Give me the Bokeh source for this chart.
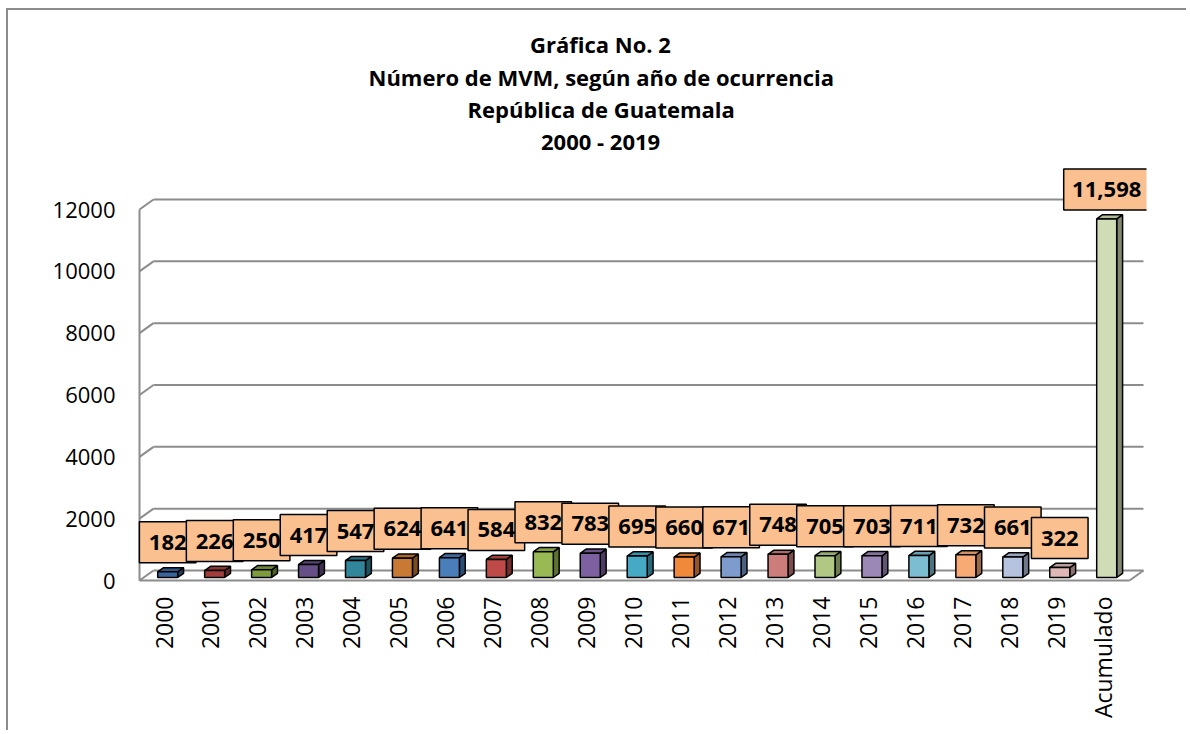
import math
from bokeh.plotting import figure
from bokeh.models import Range1d, FixedTicker, Title
from bokeh.embed import file_html
from bokeh.resources import INLINE
from bokeh.core.properties import value

# ---------------- data ----------------
categories = ["2000", "2001", "2002", "2003", "2004", "2005", "2006", "2007", "2008", "2009",
              "2010", "2011", "2012", "2013", "2014", "2015", "2016", "2017", "2018", "2019",
              "Acumulado"]
counts = [182, 226, 250, 417, 547, 624, 641, 584, 832, 783,
          695, 660, 671, 748, 705, 703, 711, 732, 661, 322,
          11598]
bar_colors = ["#3A659C", "#A23D3B", "#7E9B3F", "#664F86", "#31869C", "#C87A34",
              "#4A7EBB", "#BE4B48", "#98B954", "#7D60A0", "#46AAC5", "#F0893A",
              "#7D9CCD", "#CB7C7B", "#B0C883", "#9C88B7", "#7CBDD1", "#F8AA74",
              "#B5C3DF", "#DDB8B7", "#D0DCB6"]
y_ticks = [0, 2000, 4000, 6000, 8000, 10000, 12000]
title_lines = ["Gráfica No. 2",
               "Número de MVM, según año de ocurrencia",
               "República de Guatemala",
               "2000 - 2019"]
title_widths = [141, 464, 266, 119]   # approx rendered widths (px) for centring
title_standoffs = [-8, 10, -10, 10]
value_labels = [f"{v:,}" for v in counts]

# ---------------- geometry (pixels) ----------------
W, H = 1180, 722
ML, MR, MT, MB = 129, 42, 150, 150
frame_w = W - ML - MR
frame_h = H - MT - MB
SX = 46.95                 # px per category
SY = 371.0 / 12000.0       # px per unit
x_start = -26.0 / SX
x_wall = -24.0 / SX
y_start = -2.0 / SY
DX = 14.0 / SX             # depth offset of the 3D box
DY = 10.0 / SY
x_right = 966.0 / SX
F1, F2 = 0.30, 0.72        # bar depth fractions
HW = 10.0 / SX             # half bar width
TITLE_CX = 592             # title centre, px from figure left


def shade(hexcol, f):
    h = hexcol.lstrip("#")
    r, g, b = (int(h[i:i + 2], 16) for i in (0, 2, 4))
    return "#%02x%02x%02x" % (int(r * f), int(g * f), int(b * f))


p = figure(width=W, height=H, output_backend="svg", toolbar_location=None,
           x_range=Range1d(x_start, x_start + frame_w / SX),
           y_range=Range1d(y_start, y_start + frame_h / SY),
           min_border_left=ML, min_border_right=MR,
           min_border_top=MT, min_border_bottom=MB,
           background_fill_color="white", border_fill_color="white")
p.outline_line_color = None
p.xgrid.visible = False
p.ygrid.visible = False
p.styles = {"margin-left": "8px", "margin-top": "10px",
            "box-shadow": "-2px -2px 0 0 #8c8c8c"}

# titles (added bottom-first so that they stack upward)
for t, w, s in reversed(list(zip(title_lines, title_widths, title_standoffs))):
    p.add_layout(Title(text=t, align="left", offset=TITLE_CX - w / 2 - ML,
                       standoff=s,
                       text_font="Open Sans", text_font_style="bold",
                       text_font_size="22px", text_color="black"), "above")

# axes
p.yaxis.ticker = FixedTicker(ticks=y_ticks)
p.yaxis.axis_line_color = None
p.yaxis.major_tick_line_color = None
p.yaxis.minor_tick_line_color = None
p.yaxis.major_tick_out = 0
p.yaxis.major_label_standoff = 22
p.yaxis.major_label_text_font = "Open Sans"
p.yaxis.major_label_text_font_size = "22px"
p.yaxis.major_label_text_color = "black"

idx = list(range(len(categories)))
p.xaxis.ticker = FixedTicker(ticks=idx)
p.xaxis.major_label_overrides = {i: c for i, c in zip(idx, categories)}
p.xaxis.major_label_orientation = math.pi / 2
p.xaxis.axis_line_color = None
p.xaxis.major_tick_line_color = None
p.xaxis.minor_tick_line_color = None
p.xaxis.major_tick_out = 0
p.xaxis.major_label_standoff = 14
p.xaxis.major_label_text_font = "Open Sans"
p.xaxis.major_label_text_font_size = "23px"
p.xaxis.major_label_text_color = "black"

# walls / gridlines
gx0, gy0, gx1, gy1 = [], [], [], []
for v in y_ticks:
    gx0 += [x_wall, x_wall + DX]
    gy0 += [v, v + DY]
    gx1 += [x_wall + DX, x_right + DX]
    gy1 += [v + DY, v + DY]
gx0 += [x_wall, x_wall, x_right]
gy0 += [0, 0, 0]
gx1 += [x_wall, x_right, x_right + DX]
gy1 += [y_ticks[-1], 0, DY]
p.segment(x0=gx0, y0=gy0, x1=gx1, y1=gy1, line_color="#8c8c8c", line_width=2)

# 3D bars
ddx = (F2 - F1) * DX
ddy = (F2 - F1) * DY
lefts = [i + F1 * DX - HW for i in idx]
rights = [i + F1 * DX + HW for i in idx]
bottoms = [F1 * DY for _ in idx]
tops = [v + F1 * DY for v in counts]

side_xs = [[r, r + ddx, r + ddx, r] for r in rights]
side_ys = [[b, b + ddy, t + ddy, t] for b, t in zip(bottoms, tops)]
top_xs = [[l, r, r + ddx, l + ddx] for l, r in zip(lefts, rights)]
top_ys = [[t, t, t + ddy, t + ddy] for t in tops]

p.patches(side_xs, side_ys, fill_color=[shade(c, 0.62) for c in bar_colors],
          line_color="black", line_width=1.5)
p.patches(top_xs, top_ys, fill_color=[shade(c, 0.85) for c in bar_colors],
          line_color="black", line_width=1.5)
p.quad(left=lefts, right=rights, bottom=bottoms, top=tops,
       fill_color=bar_colors, line_color="black", line_width=1.5)

# data label boxes (interleaved so later boxes cover earlier ones)
box_gap = (9.0 + 20.5) / SY
for i in idx:
    cx = i + F1 * DX
    cy = tops[i] + box_gap
    lab = value_labels[i]
    box_w = 20 + 12.2 * sum(ch.isdigit() for ch in lab) + 5 * lab.count(",")
    p.rect(x=[cx], y=[cy], width=box_w, height=41, width_units="screen",
           height_units="screen", fill_color="#FAC090", line_color="black",
           line_width=1.5)
    p.text(x=[cx], y=[cy], text=[lab], text_font=value("Open Sans"),
           text_font_style="bold", text_font_size="22px", text_color="black",
           text_align="center", text_baseline="middle")

open("out.html", "w").write(file_html(p, INLINE))
